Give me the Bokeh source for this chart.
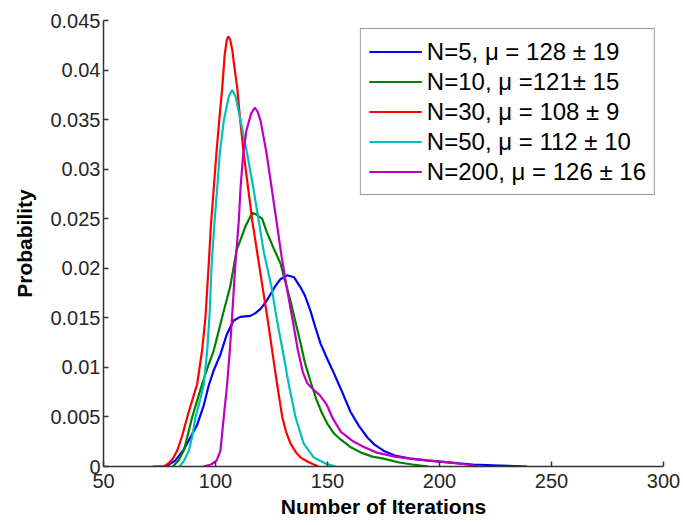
from bokeh.plotting import figure
from bokeh.models import Range1d, FixedTicker, CustomJSTickFormatter, Legend, LegendItem
from bokeh.embed import file_html
from bokeh.resources import INLINE

# ---- data ----
n5_x = [72, 78, 82, 85.8, 88, 91.8, 94.8, 97, 99.2, 102.2, 105, 108, 111, 115.6, 118, 120.1,
        122.5, 124.6, 127, 129, 132, 135, 137.9, 140, 142.4, 144.5, 146.9, 150, 152.7, 156,
        160.3, 164, 167.9, 171, 175, 180, 187, 195, 205, 215, 227, 239]
n5_y = [0, 0, 0.0006, 0.0017, 0.0026, 0.0042, 0.0062, 0.0082, 0.0097, 0.0113, 0.0133, 0.0147,
        0.0151, 0.0152, 0.0155, 0.0159, 0.0166, 0.0174, 0.0183, 0.0189, 0.0193, 0.0191, 0.0181,
        0.0172, 0.0157, 0.0141, 0.0124, 0.0108, 0.0095, 0.0078, 0.0055, 0.0041, 0.0029, 0.0022,
        0.0016, 0.0011, 0.0008, 0.0006, 0.0004, 0.0002, 0.0001, 0]

n10_x = [81, 83.5, 86, 89.6, 92, 94, 96.5, 99.2, 101, 103, 105, 106.7, 109.4, 111.2, 113.5,
         116.4, 118.5, 120.8, 123, 126, 129, 131, 133.5, 136, 138, 140, 142.4, 145, 147.5, 150,
         153, 156, 160, 165, 170, 175, 182, 188, 195]
n10_y = [0, 0.0006, 0.0017, 0.005, 0.0068, 0.0083, 0.01, 0.0117, 0.0133, 0.0151, 0.0168, 0.0183,
         0.0218, 0.0229, 0.0243, 0.0256, 0.0254, 0.025, 0.0236, 0.022, 0.0205, 0.0188, 0.0167,
         0.0143, 0.0124, 0.0104, 0.0086, 0.0068, 0.0054, 0.0043, 0.0033, 0.0027, 0.002, 0.0014,
         0.001, 0.0008, 0.0004, 0.0002, 0]

n30_x = [77, 79, 81, 82.9, 85, 87.4, 89.5, 91.8, 94, 95.5, 97, 98, 99.2, 100.4, 101.7, 103,
         104.1, 105, 105.7, 106.5, 107.5, 108.5, 109.7, 111, 112.6, 114.5, 116.4, 118.6, 120.8,
         123.1, 125.3, 127.5, 129.8, 131.5, 133.5, 136, 138, 141, 143.9, 146]
n30_y = [0, 0.0003, 0.0008, 0.0016, 0.003, 0.005, 0.0066, 0.0083, 0.0117, 0.015, 0.0205, 0.0245,
         0.028, 0.0316, 0.035, 0.0382, 0.0415, 0.043, 0.0434, 0.0431, 0.042, 0.0402, 0.0382,
         0.035, 0.0316, 0.0282, 0.0248, 0.0216, 0.0184, 0.0151, 0.0117, 0.0083, 0.005, 0.0035,
         0.0023, 0.0014, 0.0009, 0.0005, 0.0002, 0]

n50_x = [84, 86, 88.1, 89.6, 91.1, 93, 94.8, 96.3, 97.4, 98.3, 99.6, 100.8, 101.9, 103.7, 105.9,
         107.4, 109, 111.2, 114.1, 116.8, 119.3, 121.6, 125, 127.5, 130, 132.7, 135.7, 139.4,
         143.9, 149.1, 153.6]
n50_y = [0, 0.0006, 0.0016, 0.003, 0.005, 0.0066, 0.0083, 0.0117, 0.0155, 0.0205, 0.0248, 0.0282,
         0.0316, 0.0349, 0.0373, 0.038, 0.0373, 0.0349, 0.0316, 0.0282, 0.0248, 0.0216, 0.0181,
         0.0147, 0.0117, 0.0083, 0.005, 0.0023, 0.0009, 0.0003, 0]

n200_x = [94.6, 98, 100.5, 102.2, 103.7, 105.2, 106.4, 107.4, 108.9, 110.4, 111.2, 112.4, 113.8,
          115.9, 117.5, 118.8, 120.1, 122.8, 125, 127.2, 129.5, 132, 134.5, 136.8, 139, 141,
          143.5, 146.5, 149.5, 152.5, 156, 161, 166, 172, 180, 187, 196, 205, 212, 218]
n200_y = [0, 0.0002, 0.0006, 0.0016, 0.005, 0.0083, 0.0117, 0.0151, 0.0205, 0.0248, 0.0282,
          0.0316, 0.0339, 0.0356, 0.0362, 0.0358, 0.0349, 0.0316, 0.0282, 0.0248, 0.0212, 0.0178,
          0.0147, 0.0117, 0.0095, 0.0084, 0.0078, 0.0072, 0.0063, 0.0048, 0.0035, 0.0026, 0.002,
          0.0014, 0.001, 0.0008, 0.0006, 0.0004, 0.0002, 0]

labels = ["N=5, \u03bc = 128 \u00b1 19",
          "N=10, \u03bc =121\u00b1 15",
          "N=30, \u03bc = 108 \u00b1 9",
          "N=50, \u03bc = 112 \u00b1 10",
          "N=200, \u03bc = 126 \u00b1 16"]
colors = ["#0000ff", "#008000", "#ff0000", "#00bfbf", "#bf00bf"]
series = [(n5_x, n5_y), (n10_x, n10_y), (n30_x, n30_y), (n50_x, n50_y), (n200_x, n200_y)]

x_ticks = [50, 100, 150, 200, 250, 300]
y_ticks = [0, 0.005, 0.01, 0.015, 0.02, 0.025, 0.03, 0.035, 0.04, 0.045]

FONT = "Liberation Sans"

p = figure(width=683, height=525, output_backend="svg", toolbar_location=None,
           x_range=Range1d(50, 300), y_range=Range1d(0, 0.045),
           min_border_left=103, min_border_right=20, min_border_top=20, min_border_bottom=59)
p.outline_line_color = None
p.background_fill_color = "white"
p.border_fill_color = "white"
p.xgrid.visible = False
p.ygrid.visible = False

items = []
for (xs, ys), c, lab in zip(series, colors, labels):
    r = p.line(xs, ys, line_color=c, line_width=2.2)
    items.append(LegendItem(label=lab, renderers=[r]))

p.xaxis.ticker = FixedTicker(ticks=x_ticks)
p.yaxis.ticker = FixedTicker(ticks=y_ticks)
p.yaxis.formatter = CustomJSTickFormatter(
    code="var s = tick.toFixed(3); s = s.replace(/0+$/, ''); s = s.replace(/\\.$/, ''); return s;")

for ax in (p.xaxis[0], p.yaxis[0]):
    ax.axis_line_color = "#333333"
    ax.axis_line_width = 1.5
    ax.major_tick_line_color = "#333333"
    ax.major_tick_line_width = 1.5
    ax.major_tick_in = 5
    ax.major_tick_out = 0
    ax.minor_tick_line_color = None
    ax.major_label_text_font = FONT
    ax.major_label_text_font_size = "20px"
    ax.major_label_text_color = "#262626"
    ax.axis_label_text_font = FONT
    ax.axis_label_text_font_size = "21px"
    ax.axis_label_text_font_style = "bold"
    ax.axis_label_text_color = "black"

p.xaxis.axis_label = "Number of Iterations"
p.yaxis.axis_label = "Probability"
p.xaxis.major_label_standoff = 7
p.xaxis.axis_label_standoff = 4
p.yaxis.major_label_standoff = 3
p.yaxis.axis_label_standoff = 11

legend = Legend(items=items, location="top_right")
legend.margin = 8
legend.padding = 8
legend.spacing = 1
legend.label_height = 29
legend.glyph_height = 29
legend.glyph_width = 53
legend.label_standoff = 5
legend.label_text_font = FONT
legend.label_text_font_size = "24px"
legend.label_text_color = "black"
legend.border_line_color = "#333333"
legend.border_line_width = 1.5
legend.background_fill_color = "white"
legend.background_fill_alpha = 1.0
p.add_layout(legend)

open("out.html", "w").write(file_html(p, INLINE))
